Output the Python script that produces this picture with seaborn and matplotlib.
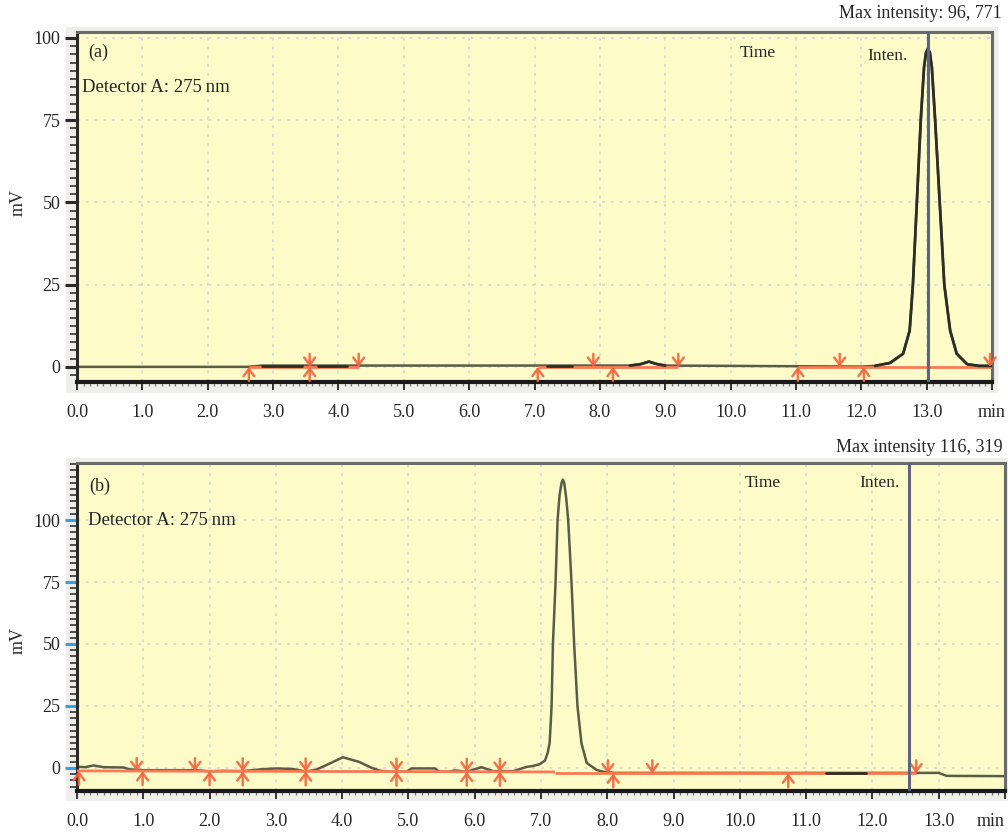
import numpy as np
import pandas as pd
import matplotlib
matplotlib.use("Agg")
import matplotlib.pyplot as plt
import seaborn as sns
from matplotlib.ticker import MultipleLocator, FixedLocator, FixedFormatter
from matplotlib.patches import Rectangle

# ---------------- chromatogram (a) ----------------
time_a = [0.00, 2.60, 2.83, 3.44, 3.69, 4.13, 7.19, 7.57, 8.46, 8.62, 8.75, 8.88,
          9.00, 12.00, 12.21, 12.44, 12.64, 12.74, 12.79, 12.85, 12.91, 12.96, 12.99,
          13.02, 13.05, 13.08, 13.13, 13.20, 13.27, 13.36, 13.46, 13.62, 13.80, 14.00]
mv_a = [0.0, 0.0, 0.4, 0.4, 0.4, 0.4, 0.4, 0.4, 0.4, 0.8, 1.6, 0.8,
        0.4, 0.1, 0.3, 1.2, 4.0, 11.0, 25.0, 50.0, 75.0, 91.0, 95.5,
        96.77, 95.5, 91.0, 75.0, 50.0, 25.0, 11.0, 4.0, 0.8, 0.3, 0.3]
peaks_a = [(2.83, 3.44), (3.69, 4.13), (7.19, 7.57), (8.46, 9.00), (12.21, 14.00)]
base_a = [(2.63, 4.31), (7.05, 9.20), (11.03, 14.00)]
base_a_level = 0.0
up_a = [2.63, 3.56, 7.05, 8.20, 11.03, 12.04]
down_a = [3.56, 4.31, 7.90, 9.20, 11.67, 13.97]
cursor_a = 13.02
max_a = "Max intensity: 96, 771"

# ---------------- chromatogram (b) ----------------
time_b = [0.00, 0.12, 0.25, 0.40, 0.70, 0.80, 0.95, 1.00, 1.50, 1.78, 1.85, 2.00,
          2.20, 2.50, 2.80, 3.00, 3.25, 3.45, 3.60, 3.75, 4.01, 4.25, 4.45, 4.57,
          4.70, 4.97, 5.05, 5.40, 5.46, 5.61, 5.70, 5.88, 5.97, 6.10, 6.28, 6.58,
          6.78, 6.88, 6.98, 7.06, 7.10, 7.13, 7.16, 7.18, 7.22, 7.25, 7.28, 7.31,
          7.33, 7.35, 7.38, 7.41, 7.46, 7.50, 7.55, 7.61, 7.69, 7.84, 7.93, 8.10,
          11.30, 11.90, 13.00, 13.12, 14.00]
mv_b = [0.5, 0.3, 1.0, 0.3, 0.2, -0.6, -0.8, -0.9, -0.9, -0.9, -1.0, -1.4,
        -1.2, -1.3, -0.5, -0.2, -0.4, -1.4, -0.8, 1.0, 4.3, 2.5, 0.0, -1.1,
        -1.5, -1.5, -0.2, -0.2, -1.5, -1.5, -1.0, -1.5, -0.8, 0.3, -1.3, -1.3,
        0.4, 0.8, 1.5, 3.0, 6.0, 10.0, 25.0, 50.0, 75.0, 100.0, 110.0, 115.0,
        116.3, 115.0, 109.0, 100.0, 75.0, 50.0, 25.0, 10.0, 2.0, -0.8, -1.5, -2.0,
        -2.0, -2.0, -2.0, -3.2, -3.3]
peaks_b = [(11.30, 11.90)]
base_b_t = [0.00, 7.21, 7.21, 12.66]
base_b_v = [-1.2, -1.6, -2.2, -2.2]
up_b = [0.03, 0.99, 2.00, 2.50, 3.45, 4.82, 5.88, 6.38, 8.09, 10.73]
down_b = [0.90, 1.78, 2.50, 3.45, 4.82, 5.88, 6.38, 8.01, 8.68, 12.66]
cursor_b = 12.55
max_b = "Max intensity 116, 319"

x_ticks = list(range(0, 15))
x_labels = [f"{v:.1f}" for v in range(0, 14)] + ["min"]
y_ticks = [0, 25, 50, 75, 100]

sns.set_theme(style="ticks")
plt.rcParams["font.family"] = ["Liberation Serif", "DejaVu Serif"]
plt.rcParams["font.size"] = 13

BG = "#FDFCC8"
SIGNAL = "#5b5b48"
DARK = "#2e2e26"
ORANGE = "#FA7B52"
ARROW = "#F4663F"
CURSOR = "#5d6482"
GRID = "#dcdcd0"

W, H = 1008, 833
fig = plt.figure(figsize=(W / 100, H / 100), dpi=100)


def frac_box(x0, y0, x1, y1):
    """pixel box (top-left origin) -> figure fraction [left, bottom, width, height]"""
    return [x0 / W, 1 - y1 / H, (x1 - x0) / W, (y1 - y0) / H]


def panel(box, shade, t, v, peaks, base_segments, base_fn, ups, downs, cursor,
          ylim, tag, tag_xy, det_xy, time_xy, inten_xy, ymajor_color, min_ha):
    fig.patches.append(Rectangle((shade[0] / W, 1 - shade[3] / H),
                                 (shade[2] - shade[0]) / W, (shade[3] - shade[1]) / H,
                                 transform=fig.transFigure, facecolor="#eeeeeb",
                                 edgecolor="none", zorder=-5))
    ax = fig.add_axes(box)
    ax.set_zorder(1)
    ax.set_facecolor(BG)
    df = pd.DataFrame({"time": t, "mV": v})
    sns.lineplot(data=df, x="time", y="mV", ax=ax, color=SIGNAL, linewidth=1.8,
                 estimator=None, sort=False, zorder=2)
    for xs, ys in base_segments:
        ax.plot(xs, ys, color=ORANGE, linewidth=2.0, solid_capstyle="butt", zorder=3)
    for a, b in peaks:
        sub = df[(df["time"] >= a) & (df["time"] <= b)]
        sns.lineplot(data=sub, x="time", y="mV", ax=ax, color=DARK, linewidth=2.0,
                     estimator=None, sort=False, zorder=4)
    arrow_kw = dict(arrowstyle="->,head_width=0.3,head_length=0.4", color=ARROW,
                    lw=1.8, shrinkA=0, shrinkB=0, alpha=0.9)
    for x in ups:
        ax.annotate("", xy=(x, base_fn(x)), xytext=(0, -14), textcoords="offset pixels",
                    arrowprops=arrow_kw, zorder=5)
    for x in downs:
        ax.annotate("", xy=(x, base_fn(x)), xytext=(0, 13), textcoords="offset pixels",
                    arrowprops=arrow_kw, zorder=5)
    ax.axvline(cursor, color=CURSOR, linewidth=2.2, zorder=6)

    ax.set_xlim(0, 14)
    ax.set_ylim(*ylim)
    ax.xaxis.set_major_locator(FixedLocator(x_ticks))
    ax.xaxis.set_major_formatter(FixedFormatter(x_labels))
    ax.xaxis.set_minor_locator(MultipleLocator(0.1))
    ax.yaxis.set_major_locator(FixedLocator(y_ticks))
    ax.yaxis.set_minor_locator(MultipleLocator(2.5))
    ax.tick_params(axis="x", which="major", direction="out", length=6, width=1.4,
                   color="#333333", labelsize=13, pad=10, bottom=True)
    ax.tick_params(axis="x", which="minor", direction="out", length=3, width=0.9,
                   color="#777777", bottom=True)
    ax.tick_params(axis="y", which="major", direction="out", length=9, width=2.2,
                   color=ymajor_color, labelsize=13, pad=3, left=True)
    ax.tick_params(axis="y", which="minor", direction="out", length=5, width=1.2,
                   color="#333333", left=True)
    ax.grid(True, which="major", color=GRID, linestyle=(0, (1.5, 3)), linewidth=1.4)
    ax.set_axisbelow(True)
    ax.set_xlabel("")
    ax.set_ylabel("")
    ax.get_xticklabels()[-1].set_ha(min_ha)
    for side, (c, lw) in {"top": ("#6a6a6a", 2.2), "right": ("#6a6a6a", 2.2),
                          "left": ("#2a2a2a", 2.2), "bottom": ("#1a1a1a", 3.0)}.items():
        ax.spines[side].set_visible(True)
        ax.spines[side].set_color(c)
        ax.spines[side].set_linewidth(lw)
    ax.text(*tag_xy, tag, transform=ax.transAxes, fontsize=13, va="center", ha="left")
    ax.text(*det_xy, "Detector A: 275\u2009nm", transform=ax.transAxes, fontsize=13.5,
            va="center", ha="left")
    ax.text(*time_xy, "Time", transform=ax.transAxes, fontsize=12.5, va="center", ha="center")
    ax.text(*inten_xy, "Inten.", transform=ax.transAxes, fontsize=12.5, va="center", ha="center")
    return ax


base_a_segments = [([a, b], [base_a_level, base_a_level]) for a, b in base_a]
panel(frac_box(77, 32, 992, 382), (66, 27, 998, 393), time_a, mv_a, peaks_a,
      base_a_segments, lambda x: base_a_level, up_a, down_a, cursor_a,
      (-4.6, 101.8), "(a)", (0.012, 0.943), (0.005, 0.84), (0.744, 0.94),
      (0.886, 0.931), "#2a2a2a", "center")

base_b_segments = [(base_b_t[:2], base_b_v[:2]), (base_b_t[2:], base_b_v[2:])]
panel(frac_box(77, 463, 1005, 791), (66, 458, 1008, 801), time_b, mv_b, peaks_b,
      base_b_segments, lambda x: float(np.interp(x, base_b_t, base_b_v)), up_b, down_b,
      cursor_b, (-9.3, 123.0), "(b)", (0.013, 0.93), (0.012, 0.826), (0.739, 0.939),
      (0.865, 0.939), "#3a9ee0", "right")

fig.text(1002 / W, 1 - 14 / H, max_a, ha="right", va="center", fontsize=13)
fig.text(1003 / W, 1 - 448 / H, max_b, ha="right", va="center", fontsize=13)
fig.text(18 / W, 1 - 202 / H, "mV", rotation=90, ha="center", va="center", fontsize=13)
fig.text(18 / W, 1 - 640 / H, "mV", rotation=90, ha="center", va="center", fontsize=13)

fig.savefig("out.png", dpi=100, facecolor="white")
